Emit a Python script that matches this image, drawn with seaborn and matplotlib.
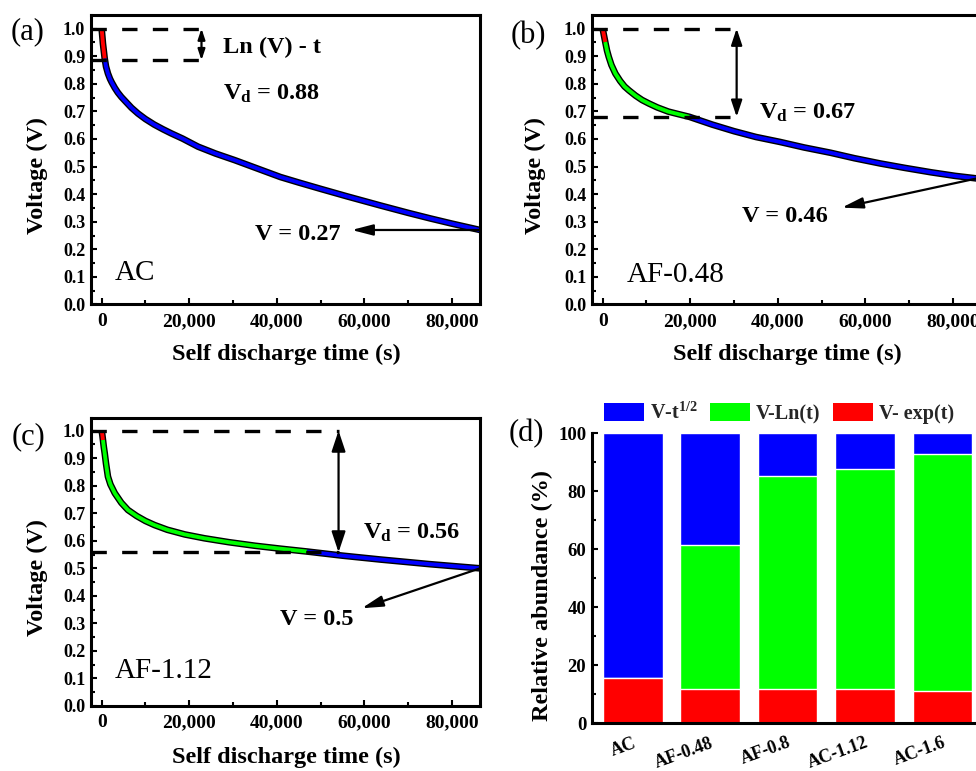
import matplotlib
matplotlib.use('Agg')
import matplotlib.pyplot as plt
import matplotlib.ticker as mticker
from matplotlib.patches import Patch
import seaborn as sns
import pandas as pd

# ---------------- data ----------------
# (a) AC
a_exp_t = [0, 300, 700]
a_exp_v = [1.0, 0.945, 0.891]
a_sqrt_t = [700, 1000, 1440, 1900, 2300, 3000, 3700, 4500, 5500, 6800, 8300, 10000, 12000,
            14000, 15900, 18500, 22000, 26000, 30400, 35000, 40800, 45000, 50000, 56000,
            63600, 70000, 75000, 80000, 86400]
a_sqrt_v = [0.891, 0.862, 0.837, 0.818, 0.805, 0.785, 0.768, 0.752, 0.735, 0.713, 0.692, 0.672,
            0.652, 0.635, 0.62, 0.601, 0.572, 0.547, 0.523, 0.496, 0.462, 0.442, 0.419, 0.392,
            0.359, 0.332, 0.312, 0.293, 0.27]

# (b) AF-0.48
b_exp_t = [0, 300, 600]
b_exp_v = [1.0, 0.975, 0.951]
b_ln_t = [600, 1000, 1400, 2000, 2900, 4000, 5000, 6000, 7500, 9000, 10600, 12500, 15000,
          17500, 19800]
b_ln_v = [0.951, 0.92, 0.897, 0.868, 0.837, 0.81, 0.79, 0.776, 0.757, 0.741, 0.728, 0.714,
          0.699, 0.689, 0.68]
b_sqrt_t = [19800, 25000, 30000, 35000, 40500, 46000, 52000, 57500, 63400, 69000, 75000,
            80500, 86400]
b_sqrt_v = [0.68, 0.652, 0.628, 0.607, 0.589, 0.569, 0.55, 0.53, 0.511, 0.495, 0.479, 0.466,
            0.455]

# (c) AF-1.12
c_exp_t = [0, 150, 300]
c_exp_v = [1.0, 0.985, 0.966]
c_ln_t = [300, 500, 700, 1000, 1440, 2000, 3000, 4500, 6000, 8000, 10000, 12100, 15000,
          19000, 23500, 29000, 35000, 41000, 46900]
c_ln_v = [0.966, 0.94, 0.918, 0.88, 0.833, 0.805, 0.773, 0.738, 0.712, 0.69, 0.672, 0.657,
          0.64, 0.623, 0.609, 0.595, 0.582, 0.571, 0.561]
c_sqrt_t = [46900, 55000, 63600, 75000, 86400]
c_sqrt_v = [0.561, 0.546, 0.532, 0.515, 0.50]

# (d) relative abundance
samples = ['AC', 'AF-0.48', 'AF-0.8', 'AC-1.12', 'AC-1.6']
exp_pct = [15.5, 11.8, 11.8, 11.8, 11.2]
ln_pct = [0.0, 49.7, 73.5, 75.9, 81.6]
sqrt_pct = [84.5, 38.5, 14.7, 12.3, 7.2]
legend_labels = [r'V-t$^{\mathbf{1/2}}$', 'V-Ln(t)', 'V- exp(t)']

BLUE, GREEN, RED = '#0000FF', '#00FF00', '#FF0000'

# ---------------- style ----------------
sns.set_theme(style='ticks')
plt.rcParams['font.family'] = ['Liberation Serif', 'DejaVu Serif']
plt.rcParams['font.weight'] = 'bold'
plt.rcParams['mathtext.fontset'] = 'custom'
plt.rcParams['mathtext.rm'] = 'Liberation Serif:bold'
plt.rcParams['mathtext.bf'] = 'Liberation Serif:bold'
plt.rcParams['mathtext.it'] = 'Liberation Serif:italic:bold'

W, H = 976, 771
fig = plt.figure(figsize=(W / 100, H / 100), dpi=100)


def px_axes(l, t, r, b):
    return fig.add_axes([l / W, 1 - b / H, (r - l) / W, (b - t) / H])


ax_a = px_axes(90.7, 15, 480, 304.5)
ax_b = px_axes(591.7, 15, 981, 304.5)
ax_c = px_axes(90.7, 417.7, 480, 706)
ax_d = px_axes(591.7, 433.3, 981, 723.3)


def draw_curve(ax, segs):
    all_t, all_v = [], []
    for t, v, c in segs:
        all_t += list(t)
        all_v += list(v)
    sns.lineplot(x=all_t, y=all_v, ax=ax, color='black', lw=4.8, sort=False,
                 estimator=None, solid_capstyle='butt', solid_joinstyle='round')
    for t, v, c in segs:
        sns.lineplot(x=t, y=v, ax=ax, color=c, lw=2.8, sort=False, estimator=None,
                     solid_capstyle='butt', solid_joinstyle='round')


def style_curve_axis(ax, ylab_x):
    ax.set_xlim(-2500, 86400)
    ax.set_ylim(0, 1.049)
    ax.xaxis.set_major_locator(mticker.MultipleLocator(20000))
    ax.xaxis.set_minor_locator(mticker.MultipleLocator(10000))
    ax.xaxis.set_major_formatter(mticker.StrMethodFormatter('{x:,.0f}'))
    ax.yaxis.set_major_locator(mticker.MultipleLocator(0.1))
    ax.yaxis.set_minor_locator(mticker.MultipleLocator(0.05))
    ax.yaxis.set_major_formatter(mticker.FormatStrFormatter('%.1f'))
    ax.tick_params(which='both', direction='in', top=False, right=False, width=1.5, color='black')
    ax.tick_params(which='major', length=4.5)
    ax.tick_params(which='minor', length=3)
    ax.tick_params(axis='x', labelsize=14, pad=6, labelcolor='black')
    ax.tick_params(axis='y', labelsize=13, pad=4, labelcolor='black')
    for s in ax.spines.values():
        s.set_linewidth(2.2)
        s.set_color('black')
    ax.set_xlabel('Self discharge time (s)', fontsize=17.5, fontweight='bold', color='black')
    ax.set_ylabel('Voltage (V)', fontsize=17.5, fontweight='bold', color='black')
    ax.xaxis.set_label_coords(0.502, -0.135)
    ax.yaxis.set_label_coords(ylab_x, 0.447)
    ax.xaxis.label.set_va('top')


DASH = dict(color='black', lw=2.4, linestyle=(0, (4.6, 4.6)), zorder=5)


def dbl_arrow(ax, x, y0, y1, hl, hw, ms):
    ax.annotate('', xy=(x, y1), xytext=(x, y0),
                arrowprops=dict(arrowstyle=f'<|-|>,head_length={hl},head_width={hw}',
                                color='black', lw=1.6, shrinkA=0, shrinkB=0,
                                mutation_scale=ms), zorder=6)


def one_arrow(ax, start, end):
    ax.annotate('', xy=end, xytext=start,
                arrowprops=dict(arrowstyle='-|>,head_length=0.85,head_width=0.22',
                                color='black', lw=1.6, shrinkA=0, shrinkB=0,
                                mutation_scale=15), zorder=6)


TXT = dict(fontsize=17.5, fontweight='bold', color='black')
NAME = dict(fontsize=21, fontweight='normal', color='black')

# ---------------- (a) ----------------
draw_curve(ax_a, [(a_exp_t, a_exp_v, RED), (a_sqrt_t, a_sqrt_v, BLUE)])
style_curve_axis(ax_a, -0.11)
ax_a.plot([-2500, 22800], [1.0, 1.0], **DASH)
ax_a.plot([-2500, 22800], [0.885, 0.885], **DASH)
dbl_arrow(ax_a, 22800, 1.0, 0.885, 0.9, 0.3, 7)
ax_a.text(27700, 0.932, 'Ln (V) - t', ha='left', va='center', **TXT)
ax_a.text(27700, 0.742, r'V$_{\mathbf{d}}$ = 0.88', ha='left', va='baseline', **TXT)
ax_a.text(54500, 0.233, 'V = 0.27', ha='right', va='baseline', **TXT)
one_arrow(ax_a, (86400, 0.27), (57100, 0.27))
ax_a.text(3000, 0.088, 'AC', ha='left', va='baseline', **NAME)

# ---------------- (b) ----------------
draw_curve(ax_b, [(b_exp_t, b_exp_v, RED), (b_ln_t, b_ln_v, GREEN), (b_sqrt_t, b_sqrt_v, BLUE)])
style_curve_axis(ax_b, -0.117)
ax_b.plot([-2500, 30600], [1.0, 1.0], **DASH)
ax_b.plot([-2500, 30600], [0.68, 0.68], **DASH)
dbl_arrow(ax_b, 30600, 1.0, 0.68, 0.9, 0.3, 11)
ax_b.text(35600, 0.674, r'V$_{\mathbf{d}}$ = 0.67', ha='left', va='baseline', **TXT)
ax_b.text(51500, 0.300, 'V = 0.46', ha='right', va='baseline', **TXT)
one_arrow(ax_b, (85500, 0.457), (54600, 0.351))
ax_b.text(5500, 0.082, 'AF-0.48', ha='left', va='baseline', **NAME)

# ---------------- (c) ----------------
draw_curve(ax_c, [(c_exp_t, c_exp_v, RED), (c_ln_t, c_ln_v, GREEN), (c_sqrt_t, c_sqrt_v, BLUE)])
style_curve_axis(ax_c, -0.11)
ax_c.set_ylim(0, 1.047)
ax_c.yaxis.set_label_coords(-0.11, 0.444)
ax_c.xaxis.set_label_coords(0.502, -0.142)
ax_c.plot([-2500, 54100], [1.0, 1.0], **DASH)
ax_c.plot([-2500, 54100], [0.558, 0.558], **DASH)
dbl_arrow(ax_c, 54100, 1.0, 0.558, 0.9, 0.3, 14)
ax_c.text(59700, 0.609, r'V$_{\mathbf{d}}$ = 0.56', ha='left', va='baseline', **TXT)
ax_c.text(57400, 0.294, 'V = 0.5', ha='right', va='baseline', **TXT)
one_arrow(ax_c, (86400, 0.50), (59400, 0.355))
ax_c.text(3000, 0.10, 'AF-1.12', ha='left', va='baseline', **NAME)

# ---------------- (d) ----------------
df = pd.DataFrame({'sample': samples, 'exp': exp_pct, 'ln': ln_pct, 'sqrt': sqrt_pct})
df['top_ln'] = df['exp'] + df['ln']
df['top_sqrt'] = df['top_ln'] + df['sqrt']
bar_kw = dict(data=df, x='sample', width=0.77, edgecolor='white', linewidth=1.0,
              saturation=1, errorbar=None, ax=ax_d)
sns.barplot(y='top_sqrt', color=BLUE, **bar_kw)
sns.barplot(y='top_ln', color=GREEN, **bar_kw)
sns.barplot(y='exp', color=RED, **bar_kw)
ax_d.set_xlim(-0.53, 4.5)
ax_d.set_ylim(0, 100)
ax_d.yaxis.set_major_locator(mticker.MultipleLocator(20))
ax_d.yaxis.set_minor_locator(mticker.MultipleLocator(10))
ax_d.tick_params(which='both', direction='in', top=False, right=False, width=1.5, color='black')
ax_d.tick_params(which='major', length=4.5)
ax_d.tick_params(which='minor', length=3)
ax_d.tick_params(axis='y', labelsize=13.5, pad=4, labelcolor='black')
ax_d.tick_params(axis='x', labelsize=13, pad=8, labelcolor='black')
ax_d.set_xticks(range(len(samples)))
ax_d.set_xticklabels(samples, rotation=20, ha='right', rotation_mode='anchor')
ax_d.spines['top'].set_visible(False)
ax_d.spines['right'].set_visible(False)
for s in ('left', 'bottom'):
    ax_d.spines[s].set_linewidth(2.2)
    ax_d.spines[s].set_color('black')
ax_d.set_xlabel('')
ax_d.set_ylabel('Relative abundance (%)', fontsize=17.5, fontweight='bold', color='black')
ax_d.yaxis.set_label_coords(-0.1, 0.442)

handles = [Patch(facecolor=c, edgecolor='none') for c in (BLUE, GREEN, RED)]
fig.legend(handles, legend_labels, loc='center', bbox_to_anchor=(779 / W, 1 - 413.5 / H),
           ncol=3, frameon=False, prop=dict(family='Liberation Serif', weight='bold', size=14.5),
           handlelength=2.0, handleheight=0.95, handletextpad=0.3, columnspacing=0.6)

# ---------------- panel labels ----------------
for lab, x, y in [('(a)', 11, 31.7), ('(b)', 510.7, 36), ('(c)', 12, 436.7), ('(d)', 509, 434)]:
    fig.text(x / W, 1 - y / H, lab, ha='left', va='center', fontsize=22, fontweight='normal',
             color='black')

fig.savefig('out.png', dpi=100)
